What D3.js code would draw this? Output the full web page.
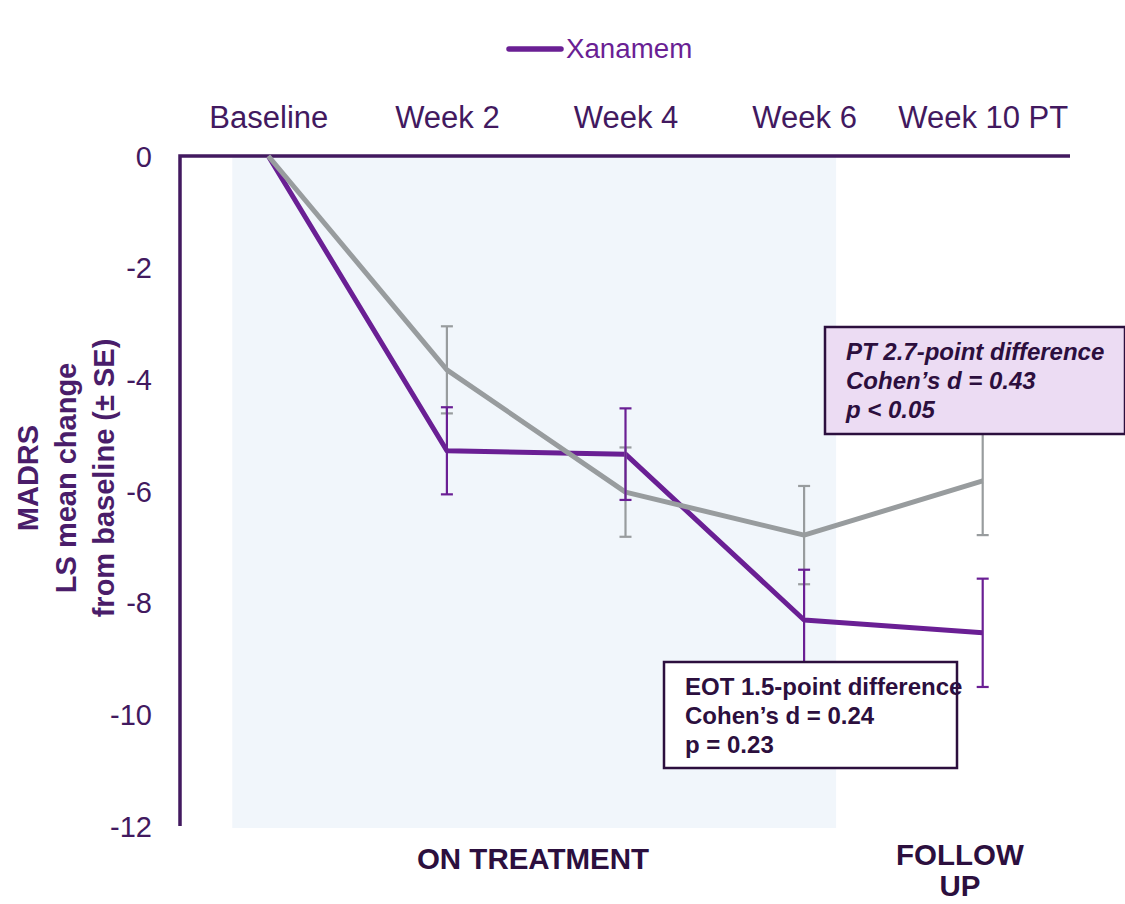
<!DOCTYPE html>
<html>
<head>
<meta charset="utf-8">
<script src="https://cdn.jsdelivr.net/npm/d3@7"></script>
<style>
  html, body { margin: 0; padding: 0; background: #fff; }
  svg { display: block; font-family: "Liberation Sans", Arial, sans-serif; }
</style>
</head>
<body>
<svg id="chart" width="1125" height="904"></svg>
<script>
// Visits along the study timeline
const visits = ["Baseline", "Week 2", "Week 4", "Week 6", "Week 10 PT"];

// MADRS LS mean change from baseline, with standard errors
const xanamemMean = [0, -5.28, -5.34, -8.31, -8.54];
const xanamemSE   = [0, 0.78, 0.82, 0.90, 0.97];
const placeboMean = [0, -3.83, -6.02, -6.79, -5.82];
const placeboSE   = [0, 0.78, 0.80, 0.88, 0.97];

const yTicks = [0, -2, -4, -6, -8, -10, -12];
const yTitleLines = ["MADRS", "LS mean change", "from baseline (± SE)"];
const legendLabel = "Xanamem";

const eotNote = ["EOT 1.5-point difference", "Cohen\u2019s d = 0.24", "p = 0.23"];
const ptNote  = ["PT 2.7-point difference", "Cohen\u2019s d = 0.43", "p < 0.05"];

const purple = "#6a1f94";
const grey = "#989c9e";
const axisColor = "#42195f";
const labelColor = "#42195f";
const darkText = "#2c0f3e";

const svg = d3.select("#chart");

const x = d3.scalePoint().domain(visits).range([179, 1072]).padding(0.5);
const y = d3.scaleLinear().domain([0, -12]).range([156, 826]);

// On-treatment shaded phase
svg.append("rect")
  .attr("x", x("Baseline") - 36)
  .attr("y", y(0))
  .attr("width", (x("Week 6") + 32) - (x("Baseline") - 36))
  .attr("height", y(-12) - y(0) + 2)
  .attr("fill", "#f1f6fb");

// Axes: left value axis and top category axis
const yAxis = d3.axisLeft(y).tickValues(yTicks).tickSize(0).tickPadding(28)
  .tickFormat(d => String(d));
const gy = svg.append("g").attr("transform", "translate(180,0)").call(yAxis);
gy.select(".domain").remove();
gy.selectAll("text")
  .attr("fill", labelColor)
  .style("font-size", "29px")
  .attr("dy", "0.35em");

svg.append("path")
  .attr("d", `M180,${y(-12)}V${y(0)}H1070`)
  .attr("fill", "none")
  .attr("stroke", axisColor)
  .attr("stroke-width", 3.5);

const xAxis = d3.axisTop(x).tickSize(0).tickPadding(0);
const gx = svg.append("g").attr("transform", "translate(0,128)").call(xAxis);
gx.select(".domain").remove();
gx.selectAll("text")
  .attr("fill", labelColor)
  .style("font-size", "31px")
  .attr("dy", "0");

// Y-axis title (three stacked lines, rotated)
const yTitle = svg.append("text")
  .attr("transform", "translate(65,478) rotate(-90)")
  .attr("text-anchor", "middle")
  .attr("fill", "#4a1d6a")
  .style("font-size", "29px")
  .style("font-weight", "bold");
yTitleLines.forEach((t, i) => {
  yTitle.append("tspan")
    .attr("x", 0)
    .attr("y", (i - 1) * 38 + 11)
    .text(t);
});

// Series lines
const line = d3.line().x((d, i) => x(visits[i])).y(d => y(d));

function errorBars(means, ses, color) {
  const g = svg.append("g").attr("stroke", color).attr("stroke-width", 2.2).attr("fill", "none");
  means.forEach((m, i) => {
    if (ses[i] === 0) return;
    const cx = x(visits[i]);
    const y1 = y(m + ses[i]), y2 = y(m - ses[i]);
    g.append("line").attr("x1", cx).attr("x2", cx).attr("y1", y1).attr("y2", y2);
    g.append("line").attr("x1", cx - 6).attr("x2", cx + 6).attr("y1", y1).attr("y2", y1);
    g.append("line").attr("x1", cx - 6).attr("x2", cx + 6).attr("y1", y2).attr("y2", y2);
  });
}

svg.append("path").datum(xanamemMean)
  .attr("d", line).attr("fill", "none")
  .attr("stroke", purple).attr("stroke-width", 5).attr("stroke-linejoin", "round");
svg.append("path").datum(placeboMean)
  .attr("d", line).attr("fill", "none")
  .attr("stroke", grey).attr("stroke-width", 5).attr("stroke-linejoin", "round");

errorBars(placeboMean, placeboSE, grey);
errorBars(xanamemMean, xanamemSE, purple);

// Annotation boxes
function noteBox(x0, y0, w, h, fill, lines, italic) {
  svg.append("rect")
    .attr("x", x0).attr("y", y0).attr("width", w).attr("height", h)
    .attr("fill", fill).attr("stroke", darkText).attr("stroke-width", 2.5);
  const t = svg.append("text")
    .attr("fill", darkText)
    .style("font-size", "24px")
    .style("font-weight", "bold")
    .style("font-style", italic ? "italic" : "normal");
  lines.forEach((s, i) => {
    t.append("tspan").attr("x", x0 + 21).attr("y", y0 + 33 + i * 29).text(s);
  });
}

noteBox(825, 327, 300, 107, "#ecdcf3", ptNote, true);
noteBox(664, 662, 293, 106, "#ffffff", eotNote, false);

// Legend
svg.append("line")
  .attr("x1", 509).attr("x2", 561).attr("y1", 49).attr("y2", 49)
  .attr("stroke", purple).attr("stroke-width", 5.5).attr("stroke-linecap", "round");
svg.append("text")
  .attr("x", 566).attr("y", 58)
  .attr("fill", purple)
  .style("font-size", "27.7px")
  .text(legendLabel);

// Phase labels
svg.append("text")
  .attr("x", 533).attr("y", 869)
  .attr("text-anchor", "middle")
  .attr("fill", darkText)
  .style("font-size", "29.5px").style("font-weight", "bold")
  .text("ON TREATMENT");
const fu = svg.append("text")
  .attr("text-anchor", "middle")
  .attr("fill", darkText)
  .style("font-size", "29.5px").style("font-weight", "bold");
fu.append("tspan").attr("x", 960).attr("y", 865).text("FOLLOW");
fu.append("tspan").attr("x", 960).attr("y", 896).text("UP");
</script>
</body>
</html>
